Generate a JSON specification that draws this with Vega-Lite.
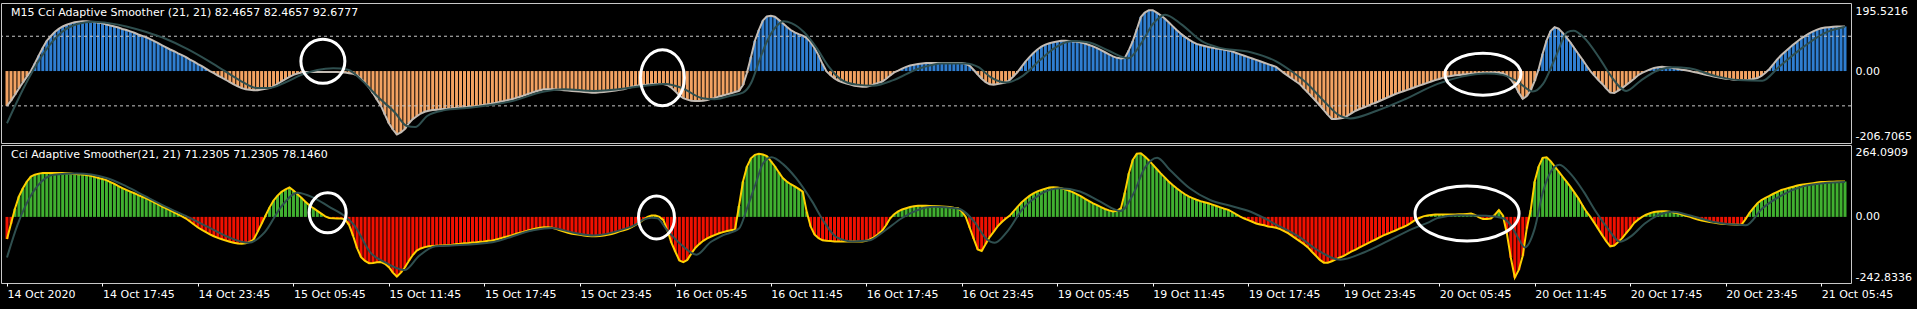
{
"$schema": "https://vega.github.io/schema/vega-lite/v6.json",
"background": "#000000",
"padding": {"left": 0, "top": 2, "right": 1.5, "bottom": 0},
"config": {"view": {"stroke": "#c8c8c8", "strokeWidth": 1}, "concat": {"spacing": 0}},
"datasets": {
"bars": [
{"i":0,"a":-100,"c":-81},{"i":1,"a":-85,"c":-25},{"i":2,"a":-68,"c":30},{"i":3,"a":-50,"c":75},{"i":4,"a":-33,"c":105},{"i":5,"a":-16,"c":130},{"i":6,"a":0,"c":148},{"i":7,"a":22,"c":155},{"i":8,"a":45,"c":159},{"i":9,"a":67,"c":161},
{"i":10,"a":87,"c":161},{"i":11,"a":100,"c":161},{"i":12,"a":112,"c":161},{"i":13,"a":121,"c":161},{"i":14,"a":128,"c":161},{"i":15,"a":133,"c":160},{"i":16,"a":137,"c":159},{"i":17,"a":140,"c":158},{"i":18,"a":142,"c":157},{"i":19,"a":143,"c":156},
{"i":20,"a":143,"c":154},{"i":21,"a":142,"c":151},{"i":22,"a":141,"c":147},{"i":23,"a":139,"c":143},{"i":24,"a":137,"c":139},{"i":25,"a":134,"c":135},{"i":26,"a":131,"c":128},{"i":27,"a":128,"c":121},{"i":28,"a":125,"c":113},{"i":29,"a":121,"c":106},
{"i":30,"a":118,"c":99},{"i":31,"a":114,"c":93},{"i":32,"a":110,"c":87},{"i":33,"a":105,"c":80},{"i":34,"a":101,"c":74},{"i":35,"a":97,"c":68},{"i":36,"a":92,"c":61},{"i":37,"a":86,"c":53},{"i":38,"a":80,"c":46},{"i":39,"a":74,"c":38},
{"i":40,"a":68,"c":31},{"i":41,"a":62,"c":24},{"i":42,"a":57,"c":17},{"i":43,"a":51,"c":9},{"i":44,"a":46,"c":2},{"i":45,"a":40,"c":-6},{"i":46,"a":33,"c":-17},{"i":47,"a":27,"c":-28},{"i":48,"a":20,"c":-39},{"i":49,"a":14,"c":-48},
{"i":50,"a":7,"c":-56},{"i":51,"a":0,"c":-64},{"i":52,"a":-6,"c":-71},{"i":53,"a":-13,"c":-77},{"i":54,"a":-19,"c":-82},{"i":55,"a":-25,"c":-87},{"i":56,"a":-32,"c":-91},{"i":57,"a":-38,"c":-95},{"i":58,"a":-44,"c":-98},{"i":59,"a":-49,"c":-99},
{"i":60,"a":-52,"c":-97},{"i":61,"a":-54,"c":-92},{"i":62,"a":-55,"c":-83},{"i":63,"a":-55,"c":-55},{"i":64,"a":-53,"c":-25},{"i":65,"a":-51,"c":5},{"i":66,"a":-49,"c":35},{"i":67,"a":-44,"c":60},{"i":68,"a":-37,"c":78},{"i":69,"a":-30,"c":92},
{"i":70,"a":-23,"c":101},{"i":71,"a":-17,"c":108},{"i":72,"a":-11,"c":97},{"i":73,"a":-7,"c":83},{"i":74,"a":-4,"c":70},{"i":75,"a":-3,"c":56},{"i":76,"a":-3,"c":43},{"i":77,"a":-3,"c":32},{"i":78,"a":-3,"c":22},{"i":79,"a":-3,"c":12},
{"i":80,"a":-3,"c":2},{"i":81,"a":-3,"c":-4},{"i":82,"a":-3,"c":-5},{"i":83,"a":-3,"c":-6},{"i":84,"a":-4,"c":-6},{"i":85,"a":-4,"c":-9},{"i":86,"a":-6,"c":-30},{"i":87,"a":-8,"c":-70},{"i":88,"a":-12,"c":-115},{"i":89,"a":-22,"c":-148},
{"i":90,"a":-34,"c":-162},{"i":91,"a":-47,"c":-170},{"i":92,"a":-64,"c":-169},{"i":93,"a":-82,"c":-167},{"i":94,"a":-100,"c":-166},{"i":95,"a":-125,"c":-172},{"i":96,"a":-150,"c":-185},{"i":97,"a":-168,"c":-205},{"i":98,"a":-182,"c":-219},{"i":99,"a":-176,"c":-205},
{"i":100,"a":-167,"c":-186},{"i":101,"a":-150,"c":-162},{"i":102,"a":-138,"c":-140},{"i":103,"a":-130,"c":-124},{"i":104,"a":-122,"c":-116},{"i":105,"a":-117,"c":-111},{"i":106,"a":-114,"c":-108},{"i":107,"a":-112,"c":-107},{"i":108,"a":-111,"c":-106},{"i":109,"a":-110,"c":-105},
{"i":110,"a":-109,"c":-104},{"i":111,"a":-108,"c":-103},{"i":112,"a":-107,"c":-102},{"i":113,"a":-106,"c":-100},{"i":114,"a":-105,"c":-99},{"i":115,"a":-104,"c":-97},{"i":116,"a":-103,"c":-96},{"i":117,"a":-103,"c":-94},{"i":118,"a":-101,"c":-93},{"i":119,"a":-99,"c":-91},
{"i":120,"a":-97,"c":-90},{"i":121,"a":-95,"c":-88},{"i":122,"a":-93,"c":-87},{"i":123,"a":-91,"c":-83},{"i":124,"a":-88,"c":-79},{"i":125,"a":-86,"c":-75},{"i":126,"a":-83,"c":-71},{"i":127,"a":-81,"c":-67},{"i":128,"a":-77,"c":-62},{"i":129,"a":-74,"c":-58},
{"i":130,"a":-70,"c":-54},{"i":131,"a":-66,"c":-50},{"i":132,"a":-62,"c":-46},{"i":133,"a":-58,"c":-43},{"i":134,"a":-55,"c":-40},{"i":135,"a":-52,"c":-38},{"i":136,"a":-52,"c":-38},{"i":137,"a":-52,"c":-40},{"i":138,"a":-53,"c":-44},{"i":139,"a":-54,"c":-49},
{"i":140,"a":-55,"c":-54},{"i":141,"a":-56,"c":-58},{"i":142,"a":-57,"c":-62},{"i":143,"a":-58,"c":-64},{"i":144,"a":-59,"c":-66},{"i":145,"a":-60,"c":-68},{"i":146,"a":-61,"c":-70},{"i":147,"a":-62,"c":-71},{"i":148,"a":-62,"c":-71},{"i":149,"a":-61,"c":-70},
{"i":150,"a":-60,"c":-68},{"i":151,"a":-59,"c":-66},{"i":152,"a":-57,"c":-63},{"i":153,"a":-56,"c":-58},{"i":154,"a":-54,"c":-53},{"i":155,"a":-52,"c":-49},{"i":156,"a":-49,"c":-45},{"i":157,"a":-46,"c":-38},{"i":158,"a":-43,"c":-29},{"i":159,"a":-41,"c":-20},
{"i":160,"a":-40,"c":-10},{"i":161,"a":-39,"c":0},{"i":162,"a":-38,"c":5},{"i":163,"a":-37,"c":5},{"i":164,"a":-37,"c":0},{"i":165,"a":-37,"c":-12},{"i":166,"a":-40,"c":-50},{"i":167,"a":-48,"c":-95},{"i":168,"a":-58,"c":-128},{"i":169,"a":-70,"c":-160},
{"i":170,"a":-78,"c":-166},{"i":171,"a":-82,"c":-158},{"i":172,"a":-85,"c":-135},{"i":173,"a":-86,"c":-114},{"i":174,"a":-86,"c":-100},{"i":175,"a":-85,"c":-88},{"i":176,"a":-83,"c":-79},{"i":177,"a":-80,"c":-72},{"i":178,"a":-77,"c":-66},{"i":179,"a":-73,"c":-60},
{"i":180,"a":-70,"c":-56},{"i":181,"a":-67,"c":-52},{"i":182,"a":-64,"c":-49},{"i":183,"a":-60,"c":-46},{"i":184,"a":-57,"c":40},{"i":185,"a":-40,"c":130},{"i":186,"a":-5,"c":185},{"i":187,"a":40,"c":215},{"i":188,"a":87,"c":228},{"i":189,"a":118,"c":232},
{"i":190,"a":145,"c":229},{"i":191,"a":157,"c":223},{"i":192,"a":159,"c":205},{"i":193,"a":156,"c":186},{"i":194,"a":147,"c":164},{"i":195,"a":137,"c":143},{"i":196,"a":127,"c":130},{"i":197,"a":118,"c":120},{"i":198,"a":111,"c":112},{"i":199,"a":106,"c":103},
{"i":200,"a":102,"c":93},{"i":201,"a":95,"c":20},{"i":202,"a":83,"c":-35},{"i":203,"a":66,"c":-65},{"i":204,"a":45,"c":-78},{"i":205,"a":20,"c":-86},{"i":206,"a":-1,"c":-88},{"i":207,"a":-12,"c":-89},{"i":208,"a":-21,"c":-90},{"i":209,"a":-28,"c":-90},
{"i":210,"a":-32,"c":-90},{"i":211,"a":-36,"c":-90},{"i":212,"a":-39,"c":-90},{"i":213,"a":-42,"c":-90},{"i":214,"a":-44,"c":-90},{"i":215,"a":-45,"c":-90},{"i":216,"a":-45,"c":-88},{"i":217,"a":-42,"c":-82},{"i":218,"a":-38,"c":-74},{"i":219,"a":-34,"c":-63},
{"i":220,"a":-30,"c":-50},{"i":221,"a":-22,"c":-30},{"i":222,"a":-13,"c":-5},{"i":223,"a":-4,"c":10},{"i":224,"a":1,"c":20},{"i":225,"a":7,"c":27},{"i":226,"a":12,"c":32},{"i":227,"a":16,"c":36},{"i":228,"a":18,"c":39},{"i":229,"a":20,"c":41},
{"i":230,"a":22,"c":41},{"i":231,"a":23,"c":41},{"i":232,"a":23,"c":40},{"i":233,"a":23,"c":40},{"i":234,"a":23,"c":39},{"i":235,"a":23,"c":38},{"i":236,"a":23,"c":37},{"i":237,"a":23,"c":36},{"i":238,"a":23,"c":34},{"i":239,"a":23,"c":33},
{"i":240,"a":23,"c":20},{"i":241,"a":21,"c":0},{"i":242,"a":15,"c":-40},{"i":243,"a":3,"c":-81},{"i":244,"a":-10,"c":-120},{"i":245,"a":-22,"c":-125},{"i":246,"a":-32,"c":-100},{"i":247,"a":-38,"c":-74},{"i":248,"a":-39,"c":-55},{"i":249,"a":-37,"c":-35},
{"i":250,"a":-35,"c":-20},{"i":251,"a":-33,"c":-7},{"i":252,"a":-26,"c":4},{"i":253,"a":-15,"c":20},{"i":254,"a":-3,"c":37},{"i":255,"a":12,"c":53},{"i":256,"a":27,"c":66},{"i":257,"a":40,"c":77},{"i":258,"a":52,"c":86},{"i":259,"a":62,"c":94},
{"i":260,"a":70,"c":99},{"i":261,"a":76,"c":104},{"i":262,"a":80,"c":108},{"i":263,"a":83,"c":109},{"i":264,"a":85,"c":108},{"i":265,"a":87,"c":105},{"i":266,"a":87,"c":101},{"i":267,"a":86,"c":96},{"i":268,"a":85,"c":90},{"i":269,"a":84,"c":83},
{"i":270,"a":82,"c":75},{"i":271,"a":79,"c":66},{"i":272,"a":75,"c":58},{"i":273,"a":71,"c":50},{"i":274,"a":66,"c":43},{"i":275,"a":60,"c":36},{"i":276,"a":54,"c":29},{"i":277,"a":48,"c":24},{"i":278,"a":42,"c":20},{"i":279,"a":38,"c":22},
{"i":280,"a":36,"c":32},{"i":281,"a":38,"c":90},{"i":282,"a":60,"c":160},{"i":283,"a":87,"c":210},{"i":284,"a":120,"c":232},{"i":285,"a":155,"c":234},{"i":286,"a":168,"c":222},{"i":287,"a":175,"c":208},{"i":288,"a":175,"c":192},{"i":289,"a":168,"c":176},
{"i":290,"a":160,"c":160},{"i":291,"a":151,"c":145},{"i":292,"a":140,"c":130},{"i":293,"a":129,"c":117},{"i":294,"a":118,"c":105},{"i":295,"a":108,"c":94},{"i":296,"a":99,"c":84},{"i":297,"a":91,"c":75},{"i":298,"a":84,"c":69},{"i":299,"a":78,"c":63},
{"i":300,"a":75,"c":58},{"i":301,"a":72,"c":54},{"i":302,"a":69,"c":50},{"i":303,"a":67,"c":45},{"i":304,"a":65,"c":40},{"i":305,"a":63,"c":35},{"i":306,"a":61,"c":30},{"i":307,"a":59,"c":26},{"i":308,"a":56,"c":18},{"i":309,"a":52,"c":9},
{"i":310,"a":48,"c":1},{"i":311,"a":44,"c":-6},{"i":312,"a":40,"c":-12},{"i":313,"a":36,"c":-18},{"i":314,"a":32,"c":-24},{"i":315,"a":28,"c":-28},{"i":316,"a":24,"c":-31},{"i":317,"a":20,"c":-35},{"i":318,"a":16,"c":-37},{"i":319,"a":12,"c":-40},
{"i":320,"a":3,"c":-45},{"i":321,"a":-6,"c":-52},{"i":322,"a":-14,"c":-60},{"i":323,"a":-22,"c":-70},{"i":324,"a":-30,"c":-80},{"i":325,"a":-38,"c":-90},{"i":326,"a":-50,"c":-100},{"i":327,"a":-62,"c":-112},{"i":328,"a":-74,"c":-128},{"i":329,"a":-86,"c":-143},
{"i":330,"a":-99,"c":-158},{"i":331,"a":-112,"c":-168},{"i":332,"a":-126,"c":-168},{"i":333,"a":-138,"c":-163},{"i":334,"a":-138,"c":-156},{"i":335,"a":-136,"c":-149},{"i":336,"a":-134,"c":-143},{"i":337,"a":-128,"c":-135},{"i":338,"a":-121,"c":-127},{"i":339,"a":-114,"c":-120},
{"i":340,"a":-109,"c":-112},{"i":341,"a":-105,"c":-105},{"i":342,"a":-100,"c":-97},{"i":343,"a":-95,"c":-90},{"i":344,"a":-91,"c":-83},{"i":345,"a":-86,"c":-75},{"i":346,"a":-81,"c":-68},{"i":347,"a":-76,"c":-62},{"i":348,"a":-71,"c":-56},{"i":349,"a":-66,"c":-50},
{"i":350,"a":-62,"c":-43},{"i":351,"a":-58,"c":-37},{"i":352,"a":-54,"c":-30},{"i":353,"a":-50,"c":-21},{"i":354,"a":-46,"c":-11},{"i":355,"a":-42,"c":-4},{"i":356,"a":-38,"c":2},{"i":357,"a":-34,"c":5},{"i":358,"a":-30,"c":7},{"i":359,"a":-26,"c":9},
{"i":360,"a":-23,"c":9},{"i":361,"a":-19,"c":9},{"i":362,"a":-16,"c":9},{"i":363,"a":-14,"c":9},{"i":364,"a":-12,"c":9},{"i":365,"a":-11,"c":10},{"i":366,"a":-10,"c":10},{"i":367,"a":-9,"c":11},{"i":368,"a":-8,"c":12},{"i":369,"a":-7,"c":7},
{"i":370,"a":-6,"c":-2},{"i":371,"a":-5,"c":-8},{"i":372,"a":-5,"c":-8},{"i":373,"a":-4,"c":-6},{"i":374,"a":-4,"c":8},{"i":375,"a":-5,"c":25},{"i":376,"a":-7,"c":5},{"i":377,"a":-12,"c":-60},{"i":378,"a":-24,"c":-150},{"i":379,"a":-40,"c":-223},
{"i":380,"a":-62,"c":-195},{"i":381,"a":-80,"c":-143},{"i":382,"a":-72,"c":-43},{"i":383,"a":-55,"c":25},{"i":384,"a":-28,"c":130},{"i":385,"a":5,"c":185},{"i":386,"a":50,"c":217},{"i":387,"a":88,"c":219},{"i":388,"a":115,"c":205},{"i":389,"a":126,"c":186},
{"i":390,"a":122,"c":167},{"i":391,"a":110,"c":148},{"i":392,"a":97,"c":130},{"i":393,"a":82,"c":110},{"i":394,"a":65,"c":89},{"i":395,"a":49,"c":68},{"i":396,"a":33,"c":43},{"i":397,"a":16,"c":19},{"i":398,"a":0,"c":0},{"i":399,"a":-13,"c":-22},
{"i":400,"a":-26,"c":-45},{"i":401,"a":-37,"c":-68},{"i":402,"a":-50,"c":-90},{"i":403,"a":-62,"c":-108},{"i":404,"a":-63,"c":-105},{"i":405,"a":-56,"c":-92},{"i":406,"a":-49,"c":-78},{"i":407,"a":-40,"c":-60},{"i":408,"a":-31,"c":-42},{"i":409,"a":-22,"c":-22},
{"i":410,"a":-12,"c":-10},{"i":411,"a":-5,"c":0},{"i":412,"a":0,"c":8},{"i":413,"a":5,"c":14},{"i":414,"a":9,"c":18},{"i":415,"a":11,"c":20},{"i":416,"a":12,"c":21},{"i":417,"a":11,"c":21},{"i":418,"a":10,"c":19},{"i":419,"a":8,"c":16},
{"i":420,"a":6,"c":13},{"i":421,"a":4,"c":9},{"i":422,"a":2,"c":4},{"i":423,"a":0,"c":0},{"i":424,"a":-3,"c":-5},{"i":425,"a":-5,"c":-10},{"i":426,"a":-8,"c":-13},{"i":427,"a":-11,"c":-16},{"i":428,"a":-13,"c":-19},{"i":429,"a":-16,"c":-21},
{"i":430,"a":-18,"c":-23},{"i":431,"a":-20,"c":-25},{"i":432,"a":-22,"c":-26},{"i":433,"a":-23,"c":-27},{"i":434,"a":-25,"c":-28},{"i":435,"a":-26,"c":-29},{"i":436,"a":-26,"c":-28},{"i":437,"a":-26,"c":-8},{"i":438,"a":-25,"c":15},{"i":439,"a":-23,"c":33},
{"i":440,"a":-20,"c":50},{"i":441,"a":-14,"c":62},{"i":442,"a":-5,"c":70},{"i":443,"a":6,"c":77},{"i":444,"a":20,"c":85},{"i":445,"a":34,"c":92},{"i":446,"a":46,"c":99},{"i":447,"a":56,"c":103},{"i":448,"a":66,"c":107},{"i":449,"a":76,"c":111},
{"i":450,"a":85,"c":115},{"i":451,"a":94,"c":118},{"i":452,"a":101,"c":120},{"i":453,"a":108,"c":122},{"i":454,"a":114,"c":124},{"i":455,"a":119,"c":126},{"i":456,"a":123,"c":128},{"i":457,"a":125,"c":128},{"i":458,"a":126,"c":129},{"i":459,"a":127,"c":129},
{"i":460,"a":128,"c":130},{"i":461,"a":128,"c":130},{"i":462,"a":128,"c":130}
],
"sig1": [
{"i":0,"v":-150},{"i":2.6,"v":-86},{"i":5.6,"v":-18},{"i":9.7,"v":59},{"i":13.8,"v":112},{"i":17.9,"v":136},{"i":21.9,"v":142},{"i":26,"v":137},{"i":30,"v":128},{"i":35,"v":112},{"i":40,"v":92},{"i":45.4,"v":63},{"i":50.5,"v":30},{"i":54.6,"v":1},{"i":58.7,"v":-28},{"i":62.8,"v":-49},{"i":65.8,"v":-49},{"i":69.9,"v":-33},{"i":74,"v":-11},{"i":78,"v":3},{"i":82,"v":8},{"i":85.7,"v":4},{"i":89.3,"v":-28},{"i":93.4,"v":-76},{"i":97.5,"v":-119},{"i":100.5,"v":-158},{"i":102.6,"v":-161},{"i":105.6,"v":-129},{"i":109.7,"v":-113},{"i":116.8,"v":-105},{"i":127,"v":-86},{"i":135,"v":-59},{"i":140,"v":-52},{"i":147.5,"v":-57},{"i":159.5,"v":-44},{"i":165.6,"v":-37},{"i":169.7,"v":-49},{"i":174.8,"v":-78},{"i":177.9,"v":-81},{"i":181.9,"v":-71},{"i":185,"v":-62},{"i":187.1,"v":-33},{"i":189.1,"v":30},{"i":191.1,"v":87},{"i":193.2,"v":126},{"i":195.2,"v":143},{"i":197.3,"v":137},{"i":200.3,"v":112},{"i":203.4,"v":68},{"i":206.4,"v":15},{"i":209.5,"v":-23},{"i":213.6,"v":-39},{"i":217.7,"v":-42},{"i":222.8,"v":-26},{"i":228.9,"v":6},{"i":235,"v":22},{"i":241,"v":22},{"i":244.2,"v":11},{"i":247.3,"v":-18},{"i":251.3,"v":-33},{"i":255.4,"v":-13},{"i":259.5,"v":30},{"i":263.6,"v":68},{"i":267.7,"v":86},{"i":271.7,"v":83},{"i":276.8,"v":59},{"i":281.9,"v":37},{"i":285,"v":78},{"i":288.1,"v":136},{"i":291.1,"v":162},{"i":295.2,"v":134},{"i":300.3,"v":86},{"i":304.4,"v":68},{"i":312.6,"v":54},{"i":319,"v":28},{"i":322.8,"v":0},{"i":326.9,"v":-37},{"i":331,"v":-86},{"i":335.1,"v":-129},{"i":337.6,"v":-136},{"i":344.3,"v":-114},{"i":351.4,"v":-81},{"i":359.6,"v":-37},{"i":365.7,"v":-16},{"i":371.8,"v":-7},{"i":375.9,"v":-11},{"i":380,"v":-33},{"i":383.5,"v":-59},{"i":386.1,"v":-37},{"i":389.2,"v":39},{"i":392.2,"v":112},{"i":393.8,"v":116},{"i":396.3,"v":97},{"i":400.4,"v":35},{"i":403.4,"v":-18},{"i":407,"v":-57},{"i":410.6,"v":-28},{"i":414.7,"v":1},{"i":418.8,"v":11},{"i":422.8,"v":8},{"i":429,"v":-13},{"i":435.1,"v":-26},{"i":441.2,"v":-28},{"i":445.3,"v":11},{"i":451.4,"v":68},{"i":456.5,"v":107},{"i":462,"v":127}
],
"sig2": [
{"i":0,"v":-149},{"i":2.6,"v":-31},{"i":5.6,"v":68},{"i":8.7,"v":130},{"i":11.7,"v":155},{"i":17.4,"v":159},{"i":25,"v":143},{"i":30,"v":112},{"i":35,"v":74},{"i":40,"v":37},{"i":45.4,"v":0},{"i":50.5,"v":-37},{"i":55.6,"v":-74},{"i":60.7,"v":-95},{"i":64.8,"v":-56},{"i":68.9,"v":37},{"i":73,"v":89},{"i":77,"v":71},{"i":81,"v":37},{"i":84,"v":12},{"i":87.3,"v":-31},{"i":91.3,"v":-130},{"i":95.4,"v":-170},{"i":100,"v":-195},{"i":103.6,"v":-143},{"i":107.7,"v":-108},{"i":111.7,"v":-105},{"i":122,"v":-93},{"i":132,"v":-50},{"i":137,"v":-41},{"i":142.4,"v":-58},{"i":147.5,"v":-68},{"i":155,"v":-45},{"i":158,"v":-28},{"i":160,"v":-10},{"i":162,"v":-3},{"i":163.5,"v":-5},{"i":165.6,"v":-43},{"i":169.7,"v":-105},{"i":173.3,"v":-139},{"i":176.8,"v":-93},{"i":179.9,"v":-68},{"i":184,"v":-43},{"i":186,"v":31},{"i":188.1,"v":118},{"i":190.1,"v":198},{"i":192.2,"v":219},{"i":195.2,"v":192},{"i":198.3,"v":143},{"i":202.4,"v":56},{"i":205.4,"v":-19},{"i":208.5,"v":-74},{"i":212.6,"v":-90},{"i":216.6,"v":-87},{"i":220.7,"v":-50},{"i":224.8,"v":-6},{"i":228.9,"v":25},{"i":233,"v":37},{"i":239,"v":31},{"i":243.2,"v":-19},{"i":246.2,"v":-81},{"i":248.3,"v":-95},{"i":251.3,"v":-56},{"i":255.4,"v":31},{"i":259.5,"v":81},{"i":264.6,"v":105},{"i":269.7,"v":93},{"i":274.8,"v":56},{"i":279.9,"v":22},{"i":283,"v":81},{"i":286,"v":180},{"i":289.1,"v":217},{"i":292.2,"v":174},{"i":297.3,"v":105},{"i":302.4,"v":62},{"i":307.5,"v":41},{"i":312.6,"v":19},{"i":319,"v":-28},{"i":324.9,"v":-74},{"i":329,"v":-118},{"i":335.1,"v":-157},{"i":341.2,"v":-130},{"i":347.3,"v":-87},{"i":353.4,"v":-43},{"i":357.5,"v":-19},{"i":359.6,"v":-4},{"i":364.7,"v":6},{"i":371.8,"v":4},{"i":375.9,"v":-4},{"i":378,"v":-31},{"i":380,"v":-81},{"i":381.5,"v":-112},{"i":384,"v":-43},{"i":386.1,"v":93},{"i":388.1,"v":167},{"i":390.2,"v":192},{"i":393.2,"v":155},{"i":396.3,"v":93},{"i":399.4,"v":19},{"i":402.4,"v":-43},{"i":405.5,"v":-91},{"i":408.5,"v":-68},{"i":411.6,"v":-25},{"i":414.7,"v":4},{"i":418.8,"v":19},{"i":422.8,"v":6},{"i":429,"v":-19},{"i":437.1,"v":-31},{"i":441.2,"v":31},{"i":446.3,"v":81},{"i":451.4,"v":112},{"i":456.5,"v":124},{"i":462,"v":128}
]
},
"vconcat": [
{
"width": 1850, "height": 140,
"layer": [
{"data": {"name": "bars"}, "mark": {"type": "bar", "width": 3, "orient": "vertical"},
 "encoding": {
  "x": {"field": "i", "type": "quantitative", "scale": {"domain": [-0.25, 462.25], "nice": false, "zero": false}, "axis": null},
  "y": {"field": "a", "type": "quantitative", "scale": {"domain": [-206.7065, 195.5216], "nice": false, "zero": false},
        "axis": {"orient": "right", "values": [-206.7065, -100, 0, 100, 195.5216], "labelExpr": "datum.value > 150 ? '195.5216' : datum.value > 50 ? '100' : datum.value > -50 ? '0.00' : datum.value > -150 ? '-100' : '-206.7065'", "labelFlush": true, "labelFlushOffset": -2, "ticks": false, "tickSize": 0, "domain": false, "grid": false, "labelPadding": 4, "labelColor": "#ffffff", "labelFont": "DejaVu Sans", "labelFontSize": 11, "title": null, "minExtent": 65, "labelOverlap": false, "labelBound": false}},
  "y2": {"datum": 0},
  "color": {"condition": {"test": "datum.a >= 0", "value": "#2f7ed0"}, "value": "#f2a262"}
 }},
{"data": {"values": [{"lvl": 100}, {"lvl": -100}]}, "mark": {"type": "rule", "strokeDash": [3, 3], "color": "#c8c8c8", "strokeWidth": 1},
 "encoding": {"y": {"field": "lvl", "type": "quantitative"}}},
{"data": {"name": "bars"}, "mark": {"type": "line", "color": "#c4bcb4", "strokeWidth": 2},
 "encoding": {"x": {"field": "i", "type": "quantitative"}, "y": {"field": "a", "type": "quantitative"}}},
{"data": {"name": "sig1"}, "mark": {"type": "line", "color": "#2f4f4f", "strokeWidth": 2, "interpolate": "monotone"},
 "encoding": {"x": {"field": "i", "type": "quantitative"}, "y": {"field": "v", "type": "quantitative"}}},
{"data": {"values": [{"i": 79.4, "v": 28, "n": "c1"}, {"i": 164.75, "v": -19, "n": "c2"}, {"i": 371, "v": -9, "n": "c3"}]},
 "mark": {"type": "point", "filled": false, "color": "#ffffff", "strokeWidth": 3, "size": 4, "opacity": 1},
 "encoding": {"x": {"field": "i", "type": "quantitative"}, "y": {"field": "v", "type": "quantitative"},
  "shape": {"field": "n", "type": "nominal", "legend": null, "scale": {"domain": ["c1", "c2", "c3"], "range": ["M-22,0A22,22 0 1,1 22,0A22,22 0 1,1 -22,0Z", "M-22,0A22,28 0 1,1 22,0A22,28 0 1,1 -22,0Z", "M-38,0A38,21 0 1,1 38,0A38,21 0 1,1 -38,0Z"]}}}},
{"data": {"values": [{"t": "M15 Cci Adaptive Smoother (21, 21) 82.4657 82.4657 92.6777"}]},
 "mark": {"type": "text", "align": "left", "baseline": "middle", "dx": 5, "dy": 10, "color": "#ffffff", "font": "DejaVu Sans", "fontSize": 11},
 "encoding": {"x": {"datum": -0.25, "type": "quantitative"}, "y": {"datum": 195.5216, "type": "quantitative"}, "text": {"field": "t"}}}
]
},
{
"width": 1850, "height": 138,
"layer": [
{"data": {"name": "bars"}, "mark": {"type": "bar", "width": 3, "orient": "vertical"},
 "encoding": {
  "x": {"field": "i", "type": "quantitative", "scale": {"domain": [-0.25, 462.25], "nice": false, "zero": false},
        "axis": {"orient": "bottom", "values": [0,24,48,72,96,120,144,168,192,216,240,264,288,312,336,360,384,408,432,456], "labelExpr": "['14 Oct 2020','14 Oct 17:45','14 Oct 23:45','15 Oct 05:45','15 Oct 11:45','15 Oct 17:45','15 Oct 23:45','16 Oct 05:45','16 Oct 11:45','16 Oct 17:45','16 Oct 23:45','19 Oct 05:45','19 Oct 11:45','19 Oct 17:45','19 Oct 23:45','20 Oct 05:45','20 Oct 11:45','20 Oct 17:45','20 Oct 23:45','21 Oct 05:45'][round(datum.value/24)]", "labelAlign": "left", "labelBaseline": "top", "labelPadding": 2, "ticks": true, "tickSize": 3, "tickColor": "#ffffff", "domain": false, "grid": false, "labelColor": "#ffffff", "labelFont": "DejaVu Sans", "labelFontSize": 11, "labelOverlap": false, "labelFlush": false, "labelBound": false, "title": null, "minExtent": 27}},
  "y": {"field": "c", "type": "quantitative", "scale": {"domain": [-242.8336, 264.0909], "nice": false, "zero": false},
        "axis": {"orient": "right", "values": [-242.8336, 0, 264.0909], "labelExpr": "datum.value > 100 ? '264.0909' : datum.value > -100 ? '0.00' : '-242.8336'", "labelFlush": true, "labelFlushOffset": -1, "ticks": false, "tickSize": 0, "domain": false, "grid": false, "labelPadding": 4, "labelColor": "#ffffff", "labelFont": "DejaVu Sans", "labelFontSize": 11, "title": null, "minExtent": 65, "labelOverlap": false, "labelBound": false}},
  "y2": {"datum": 0},
  "color": {"condition": {"test": "datum.c >= 0", "value": "#40b030"}, "value": "#f01000"}
 }},
{"data": {"name": "bars"}, "mark": {"type": "line", "color": "#ffd000", "strokeWidth": 2},
 "encoding": {"x": {"field": "i", "type": "quantitative"}, "y": {"field": "c", "type": "quantitative"}}},
{"data": {"name": "sig2"}, "mark": {"type": "line", "color": "#2f4f4f", "strokeWidth": 2, "interpolate": "monotone"},
 "encoding": {"x": {"field": "i", "type": "quantitative"}, "y": {"field": "v", "type": "quantitative"}}},
{"data": {"values": [{"i": 80.6, "v": 15, "n": "c4"}, {"i": 163.25, "v": -2, "n": "c5"}, {"i": 367, "v": 12.5, "n": "c6"}]},
 "mark": {"type": "point", "filled": false, "color": "#ffffff", "strokeWidth": 3, "size": 4, "opacity": 1},
 "encoding": {"x": {"field": "i", "type": "quantitative"}, "y": {"field": "v", "type": "quantitative"},
  "shape": {"field": "n", "type": "nominal", "legend": null, "scale": {"domain": ["c4", "c5", "c6"], "range": ["M-18.5,0A18.5,20 0 1,1 18.5,0A18.5,20 0 1,1 -18.5,0Z", "M-18,0A18,21.5 0 1,1 18,0A18,21.5 0 1,1 -18,0Z", "M-52,0A52,27.5 0 1,1 52,0A52,27.5 0 1,1 -52,0Z"]}}}},
{"data": {"values": [{"t": "Cci Adaptive Smoother(21, 21) 71.2305 71.2305 78.1460"}]},
 "mark": {"type": "text", "align": "left", "baseline": "middle", "dx": 5, "dy": 10, "color": "#ffffff", "font": "DejaVu Sans", "fontSize": 11},
 "encoding": {"x": {"datum": -0.25, "type": "quantitative"}, "y": {"datum": 264.0909, "type": "quantitative"}, "text": {"field": "t"}}}
]
}
],
"resolve": {"scale": {"x": "independent", "y": "independent", "shape": "independent"}, "axis": {"x": "independent", "y": "independent"}}
}
